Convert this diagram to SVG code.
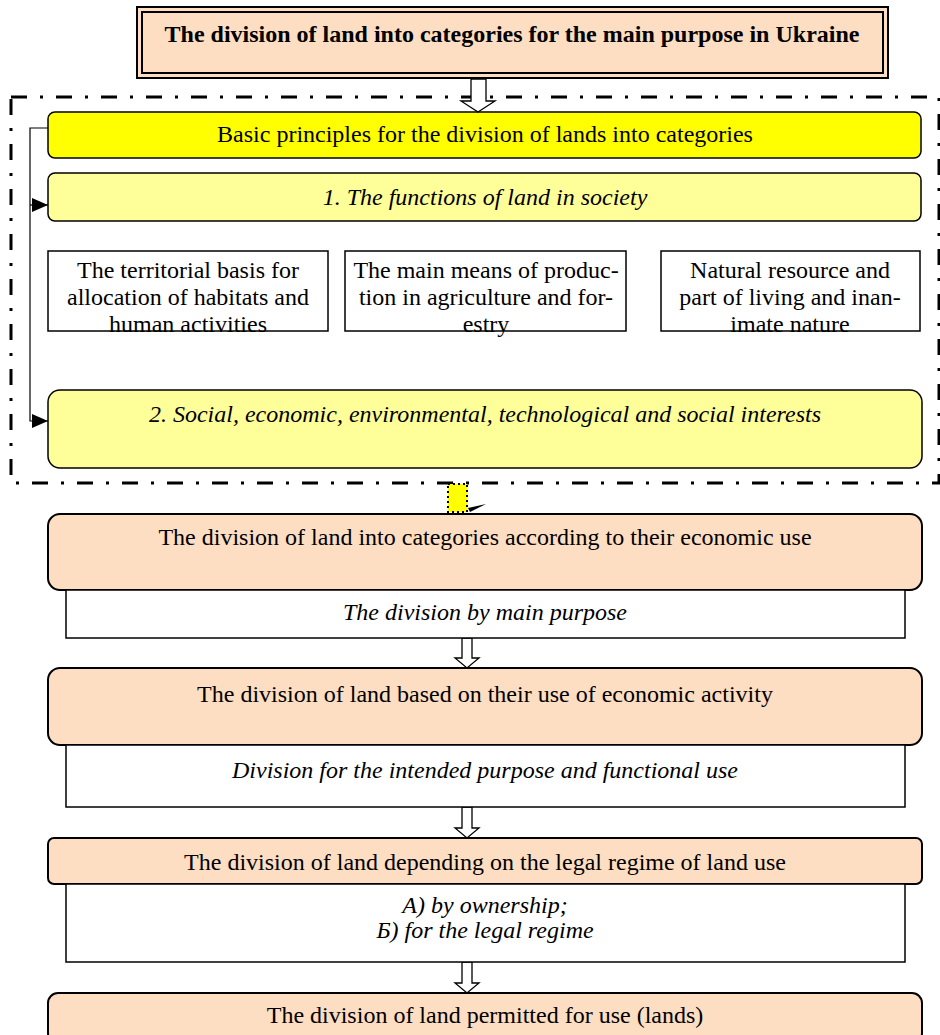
<svg xmlns="http://www.w3.org/2000/svg" width="940" height="1035" viewBox="0 0 940 1035">
<style>
.peach{fill:#FDDEC2;stroke:#000;stroke-width:2}
.white{fill:#fff;stroke:#000;stroke-width:1.5}
.hollow{fill:#fff;stroke:#000;stroke-width:1.3}
</style>
<defs>
<marker id="tri" markerWidth="16" markerHeight="14" refX="16" refY="7" orient="auto" markerUnits="userSpaceOnUse" viewBox="0 0 16 14">
<path d="M0,0 L16,7 L0,14 z" fill="#000"/>
</marker>
</defs>
<rect width="940" height="1035" fill="#fff"/>

<g id="title">
<rect x="137" y="7" width="751" height="71" fill="#FDDEC2" stroke="#000" stroke-width="2"/>
<rect x="142" y="12" width="741" height="61" fill="none" stroke="#000" stroke-width="2"/>
<text font-family="Liberation Serif" font-size="24" font-weight="bold" text-anchor="middle" x="512" y="42">The division of land into categories for the main purpose in Ukraine</text>
</g>

<g id="frame">
<rect x="11" y="97" width="928" height="386" fill="none" stroke="#000" stroke-width="3" stroke-dasharray="16 13 3 13"/>
</g>

<g id="principles">
<rect x="48" y="112" width="873" height="46" rx="7" fill="#FFFF00" stroke="#000" stroke-width="1.5"/>
<text font-family="Liberation Serif" font-size="24" text-anchor="middle" x="485" y="142">Basic principles for the division of lands into categories</text>
</g>

<g id="functions">
<rect x="48" y="173" width="873" height="48" rx="7" fill="#FFFF99" stroke="#000" stroke-width="1.5"/>
<text font-family="Liberation Serif" font-size="24" font-style="italic" text-anchor="middle" x="485" y="205">1. The functions of land in society</text>
</g>

<g id="f1">
<rect x="48" y="251" width="280" height="80" class="white"/>
<text font-family="Liberation Serif" font-size="24" text-anchor="middle" x="188" y="278">The territorial basis for</text>
<text font-family="Liberation Serif" font-size="24" text-anchor="middle" x="188" y="305">allocation of habitats and</text>
<text font-family="Liberation Serif" font-size="24" text-anchor="middle" x="188" y="332">human activities</text>
</g>
<g id="f2">
<rect x="345" y="251" width="281" height="80" class="white"/>
<text font-family="Liberation Serif" font-size="24" text-anchor="middle" x="486" y="278">The main means of produc-</text>
<text font-family="Liberation Serif" font-size="24" text-anchor="middle" x="486" y="305">tion in agriculture and for-</text>
<text font-family="Liberation Serif" font-size="24" text-anchor="middle" x="486" y="332">estry</text>
</g>
<g id="f3">
<rect x="661" y="251" width="259" height="80" class="white"/>
<text font-family="Liberation Serif" font-size="24" text-anchor="middle" x="790" y="278">Natural resource and</text>
<text font-family="Liberation Serif" font-size="24" text-anchor="middle" x="790" y="305">part of living and inan-</text>
<text font-family="Liberation Serif" font-size="24" text-anchor="middle" x="790" y="332">imate nature</text>
</g>

<g id="interests">
<rect x="48" y="390" width="874" height="78" rx="12" fill="#FFFF99" stroke="#000" stroke-width="1.5"/>
<text font-family="Liberation Serif" font-size="24" font-style="italic" text-anchor="middle" x="485" y="422">2. Social, economic, environmental, technological and social interests</text>
</g>

<g id="connectors">
<polyline points="48,128 30,128 30,421 48,421" fill="none" stroke="#000" stroke-width="1.2" marker-end="url(#tri)"/>
<line x1="30" y1="205" x2="48" y2="205" stroke="#000" stroke-width="1.2" marker-end="url(#tri)"/>
<polygon class="hollow" points="471,79 486,79 486,101 495,101 478,112 461,101 471,101"/>
<rect x="448" y="484" width="19" height="28" fill="#FFFF00" stroke="#000" stroke-width="2" stroke-dasharray="2 3"/>
<path d="M468,508 L486,504 L470,512 z" fill="#000"/>
<polygon class="hollow" points="462,638 472,638 472,658 479,658 467,668 455,658 462,658"/>
<polygon class="hollow" points="462,807 472,807 472,828 479,828 467,838 455,828 462,828"/>
<polygon class="hollow" points="462,962 472,962 472,983 479,983 467,993 455,983 462,983"/>
</g>

<g id="economic">
<rect x="48" y="514" width="874" height="76" rx="12" class="peach"/>
<text font-family="Liberation Serif" font-size="24" text-anchor="middle" x="485" y="545">The division of land into categories according to their economic use</text>
</g>
<g id="main-purpose">
<rect x="66" y="590" width="839" height="48" class="white"/>
<text font-family="Liberation Serif" font-size="24" font-style="italic" text-anchor="middle" x="485" y="620">The division by main purpose</text>
</g>

<g id="activity">
<rect x="48" y="668" width="874" height="77" rx="12" class="peach"/>
<text font-family="Liberation Serif" font-size="24" text-anchor="middle" x="485" y="702">The division of land based on their use of economic activity</text>
</g>
<g id="intended">
<rect x="66" y="745" width="839" height="62" class="white"/>
<text font-family="Liberation Serif" font-size="24" font-style="italic" text-anchor="middle" x="485" y="778">Division for the intended purpose and functional use</text>
</g>

<g id="legal">
<rect x="48" y="838" width="874" height="46" rx="6" class="peach"/>
<text font-family="Liberation Serif" font-size="24" text-anchor="middle" x="485" y="870">The division of land depending on the legal regime of land use</text>
</g>
<g id="legal-sub">
<rect x="66" y="884" width="839" height="78" class="white"/>
<text font-family="Liberation Serif" font-size="24" font-style="italic" text-anchor="middle" x="485" y="913">&#1040;) by ownership;</text>
<text font-family="Liberation Serif" font-size="24" font-style="italic" text-anchor="middle" x="485" y="938">&#1041;) for the legal regime</text>
</g>

<g id="permitted">
<rect x="48" y="993" width="874" height="50" rx="10" class="peach"/>
<text font-family="Liberation Serif" font-size="24" text-anchor="middle" x="485" y="1023">The division of land permitted for use (lands)</text>
</g>
</svg>
